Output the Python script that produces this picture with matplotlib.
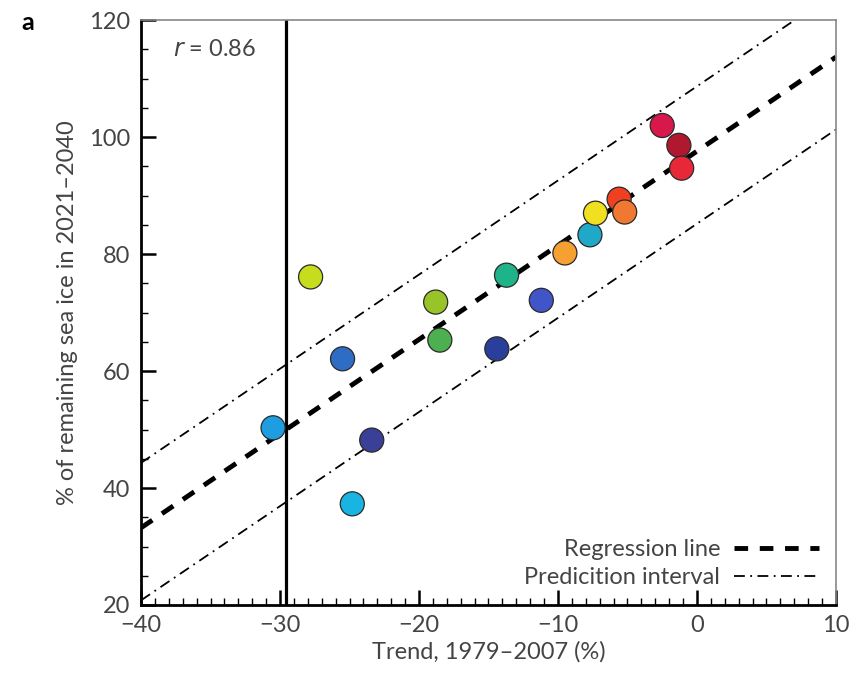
import numpy as np
import matplotlib
matplotlib.use("Agg")
import matplotlib.pyplot as plt
from matplotlib.ticker import MultipleLocator
from matplotlib.lines import Line2D

# model points: trend 1979-2007 (%) vs % of remaining sea ice in 2021-2040
trend = [-27.8, -18.8, -18.5, -25.5, -30.5, -23.4, -24.8, -14.4, -13.7,
         -11.2, -9.5, -7.7, -7.3, -5.6, -5.2, -2.5, -1.3, -1.1]
remaining = [76.1, 71.8, 65.3, 62.1, 50.3, 48.2, 37.3, 63.8, 76.4,
             72.1, 80.2, 83.3, 87.0, 89.4, 87.2, 102.0, 98.6, 94.7]
colors = ["#c8dc1e", "#98c42a", "#4cb050", "#2f6cc4", "#1e9ee0", "#3a3f98",
          "#1ab4e2", "#2a3f9c", "#1fb38a", "#3f55c8", "#f5a030", "#20a8c8",
          "#f0e020", "#f04020", "#f07830", "#d8184a", "#b01830", "#e82838"]

# regression line and prediction interval
reg_intercept = 33.2     # value at x = -40
reg_slope = 1.61
pi_upper = 11.1
pi_lower = -12.4
observed_trend = -29.6
r_value = 0.86

plt.rcParams["font.family"] = ["Lato", "DejaVu Sans"]
txt = "#444444"

fig = plt.figure(figsize=(8.6, 6.74), dpi=100)
ax = fig.add_axes([0.164, 0.1024, 0.808, 0.8676])

xs = np.array([-40, 10])
ys = reg_intercept + reg_slope * (xs + 40)
ax.plot(xs, ys, color="black", lw=3.5, dashes=(2.8, 2.4), zorder=2)
ax.plot(xs, ys + pi_upper, color="black", lw=1.3, dashes=(6, 3, 1, 3), zorder=2)
ax.plot(xs, ys + pi_lower, color="black", lw=1.3, dashes=(6, 3, 1, 3), zorder=2)
ax.axvline(observed_trend, color="black", lw=2.3, zorder=1)

ax.scatter(trend, remaining, s=300, c=colors, edgecolors="#2a2a2a",
           linewidths=0.9, zorder=3)

ax.set_xlim(-40, 10)
ax.set_ylim(20, 120)
ax.xaxis.set_major_locator(MultipleLocator(10))
ax.xaxis.set_minor_locator(MultipleLocator(1))
ax.yaxis.set_major_locator(MultipleLocator(20))
ax.yaxis.set_minor_locator(MultipleLocator(5))
ax.tick_params(which="both", direction="in", top=False, right=False,
               labelsize=17, labelcolor=txt)
ax.tick_params(which="major", length=11, width=1.8)
ax.tick_params(which="minor", length=5, width=1.0)
ax.tick_params(axis="x", pad=7)
ax.tick_params(axis="y", pad=8)

for side in ["left", "bottom"]:
    ax.spines[side].set_linewidth(2)
for side in ["top", "right"]:
    ax.spines[side].set_color("#888888")
    ax.spines[side].set_linewidth(1.2)

ax.set_xlabel("Trend, 1979\u20132007 (%)", fontsize=17, color=txt, labelpad=4)
ax.set_ylabel("% of remaining sea ice in 2021\u20132040", fontsize=17,
              color=txt, labelpad=8)

ax.text(-37.7, 115.0, "$\\it{r}$ = %.2f" % r_value, fontsize=17, color=txt,
        va="center", ha="left")
fig.text(0.025, 0.967, "a", fontsize=18, fontweight="bold", va="center")

handles = [Line2D([], [], color="black", lw=3.5, dashes=(2.8, 2.4)),
           Line2D([], [], color="black", lw=1.3, dashes=(6, 3, 1, 3))]
ax.legend(handles, ["Regression line", "Predicition interval"],
          loc="lower right", frameon=False, markerfirst=False, fontsize=17,
          labelcolor=txt, handlelength=3.6, borderaxespad=0.3,
          labelspacing=0.3, handletextpad=0.6)

fig.savefig("out.png", dpi=100)
